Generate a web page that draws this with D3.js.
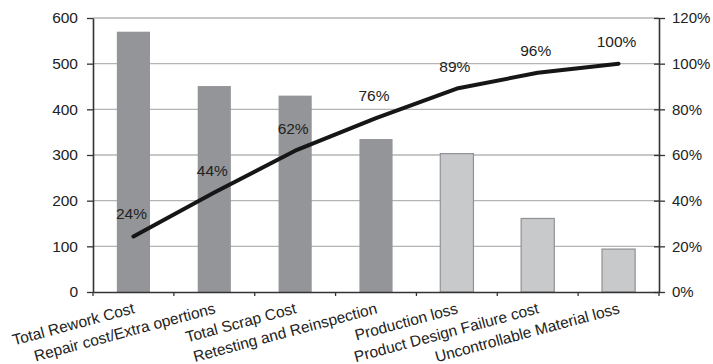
<!DOCTYPE html>
<html lang="en">
  <head>
    <meta charset="UTF-8" />
    <title>Pareto of quality costs</title>
    <style>
      body { margin: 0; background: #fff; }
      text { font-family: "Liberation Sans", Arial, Helvetica, sans-serif; fill: #222; }
    </style>
  </head>
  <body>
    <script src="https://d3js.org/d3.v7.min.js"></script>
    <script>
      const categories = [
        'Total Rework Cost',
        'Repair cost/Extra opertions',
        'Total Scrap Cost',
        'Retesting and Reinspection',
        'Production loss',
        'Product Design Failure cost',
        'Uncontrollable Material loss'
      ]
      const costs = [570, 451, 430, 335, 303, 161, 94]
      const cumLabels = ['24%', '44%', '62%', '76%', '89%', '96%', '100%']
      const leftTicks = [0, 100, 200, 300, 400, 500, 600]
      const rightTicks = [0, 20, 40, 60, 80, 100, 120]

      const width = 713
      const height = 364
      const padding = { top: 18, bottom: 72, left: 93, right: 54 }

      const svg = d3.select('body').append('svg')
        .attr('width', width).attr('height', height)

      const x = d3.scaleBand()
        .domain(d3.range(categories.length))
        .range([padding.left, width - padding.right])
        .paddingInner(0.59).paddingOuter(0.295)

      const xBand = d3.scaleBand()
        .domain(d3.range(categories.length))
        .range([padding.left, width - padding.right])

      const y = d3.scaleLinear()
        .domain([0, 600])
        .range([height - padding.bottom, padding.top])

      const yPct = d3.scaleLinear()
        .domain([0, 120])
        .range([height - padding.bottom, padding.top])

      const total = d3.sum(costs)
      const cum = Array.from(d3.cumsum(costs), v => v / total * 100)

      // grid
      svg.append('g')
        .selectAll('line')
        .data(leftTicks.filter(d => d > 0))
        .enter()
        .append('line')
        .attr('x1', padding.left).attr('x2', width - padding.right)
        .attr('y1', d => y(d)).attr('y2', d => y(d))
        .attr('stroke', '#b4b4b6').attr('stroke-width', 1.3)

      // bars
      svg.append('g')
        .selectAll('rect')
        .data(costs)
        .enter()
        .append('rect')
        .attr('x', (d, i) => x(i))
        .attr('y', d => y(d))
        .attr('width', x.bandwidth())
        .attr('height', d => y(0) - y(d))
        .attr('fill', (d, i) => i < 4 ? '#939598' : '#c8c9cb')
        .attr('stroke', (d, i) => i < 4 ? 'none' : '#909194')
        .attr('stroke-width', 1.2)

      // axes
      const xAxis = g => g
        .attr('transform', `translate(0,${y(0)})`)
        .call(d3.axisBottom(xBand).tickValues([]).tickSizeOuter(0))
        .call(g => g.select('.domain').attr('stroke', '#333').attr('stroke-width', 1.6))

      const yAxis = g => g
        .attr('transform', `translate(${padding.left},0)`)
        .call(d3.axisLeft(y).tickValues(leftTicks).tickSize(6).tickSizeOuter(0).tickPadding(9))
        .call(g => g.select('.domain').attr('stroke', '#333').attr('stroke-width', 1.6))
        .call(g => g.selectAll('.tick line').attr('stroke', '#333').attr('stroke-width', 1.3))
        .call(g => g.selectAll('.tick text').attr('font-size', 15.5).attr('fill', '#222'))

      const yAxisRight = g => g
        .attr('transform', `translate(${width - padding.right},0)`)
        .call(d3.axisRight(yPct).tickValues(rightTicks).tickSize(6).tickSizeOuter(0).tickPadding(7)
          .tickFormat(d => d + '%'))
        .call(g => g.select('.domain').attr('stroke', '#333').attr('stroke-width', 1.6))
        .call(g => g.selectAll('.tick line').attr('stroke', '#333').attr('stroke-width', 1.3).attr('x1', -5))
        .call(g => g.selectAll('.tick text').attr('font-size', 15).attr('fill', '#222'))

      svg.append('g').call(yAxis)
      svg.append('g').call(yAxisRight)
      svg.append('g').call(xAxis)

      // x ticks between categories
      svg.append('g')
        .selectAll('line')
        .data(d3.range(categories.length + 1))
        .enter()
        .append('line')
        .attr('x1', i => xBand.step() * i + padding.left)
        .attr('x2', i => xBand.step() * i + padding.left)
        .attr('y1', y(0)).attr('y2', y(0) + 4)
        .attr('stroke', '#333').attr('stroke-width', 1.3)

      // category labels
      svg.append('g')
        .selectAll('text')
        .data(categories)
        .enter()
        .append('text')
        .attr('transform', (d, i) => `translate(${xBand(i) + xBand.bandwidth() / 2 + 2},${y(0) + 21}) rotate(-15)`)
        .attr('text-anchor', 'end')
        .attr('font-size', 15.5)
        .text(d => d)

      // cumulative line
      const line = d3.line()
        .x((d, i) => xBand(i) + xBand.bandwidth() / 2)
        .y(d => yPct(d))

      svg.append('path')
        .datum(cum)
        .attr('fill', 'none')
        .attr('stroke', '#161616')
        .attr('stroke-width', 4)
        .attr('stroke-linejoin', 'round')
        .attr('stroke-linecap', 'round')
        .attr('d', line)

      svg.append('g')
        .selectAll('text')
        .data(cum)
        .enter()
        .append('text')
        .attr('x', (d, i) => xBand(i) + xBand.bandwidth() / 2 - 2)
        .attr('y', d => yPct(d) - 17)
        .attr('text-anchor', 'middle')
        .attr('font-size', 15.5)
        .text((d, i) => cumLabels[i])
    </script>
  </body>
</html>
